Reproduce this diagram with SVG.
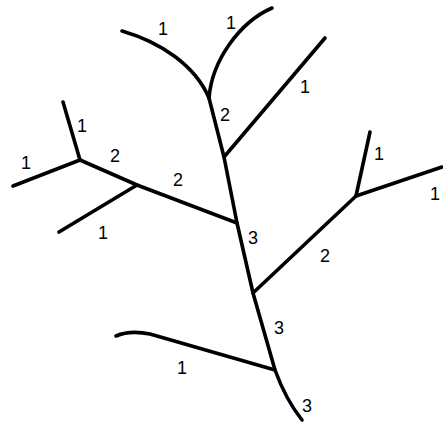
<svg xmlns="http://www.w3.org/2000/svg" width="443" height="425" viewBox="0 0 443 425">
<style>
.e{fill:none;stroke:#000;stroke-width:3.6;stroke-linecap:round;stroke-linejoin:round}
text{font-family:"Liberation Sans",Arial,sans-serif;font-size:18px;fill:#000;text-anchor:middle}
</style>
<rect width="443" height="425" fill="#fff"/>
<g id="connectors">
<path class="e" d="M209,98 L224,157 L237,223 L253,293 L275,370 Q286,400 302,420"/>
<path class="e" d="M122,31 C160,42 195,65 209,98"/>
<path class="e" d="M272,8 C240,22 212,60 209,98"/>
<path class="e" d="M325,38 L224,157"/>
<path class="e" d="M63,102 L80,160"/>
<path class="e" d="M13,186 L80,160"/>
<path class="e" d="M80,160 L137,185 L237,223"/>
<path class="e" d="M59,232 L137,185"/>
<path class="e" d="M253,293 L356,196"/>
<path class="e" d="M370,132 L356,196"/>
<path class="e" d="M442,167 L356,196"/>
<path class="e" d="M116,336 Q130,330 150,334 L275,370"/>
</g>
<g id="labels">
<text x="163" y="35">1</text>
<text x="231" y="29">1</text>
<text x="305" y="93">1</text>
<text x="225" y="121">2</text>
<text x="82" y="132">1</text>
<text x="26" y="169">1</text>
<text x="115" y="162">2</text>
<text x="178" y="186">2</text>
<text x="103" y="239">1</text>
<text x="253" y="244">3</text>
<text x="379" y="160">1</text>
<text x="435" y="200">1</text>
<text x="325" y="262">2</text>
<text x="279" y="334">3</text>
<text x="182" y="374">1</text>
<text x="307" y="412">3</text>
</g>
</svg>
